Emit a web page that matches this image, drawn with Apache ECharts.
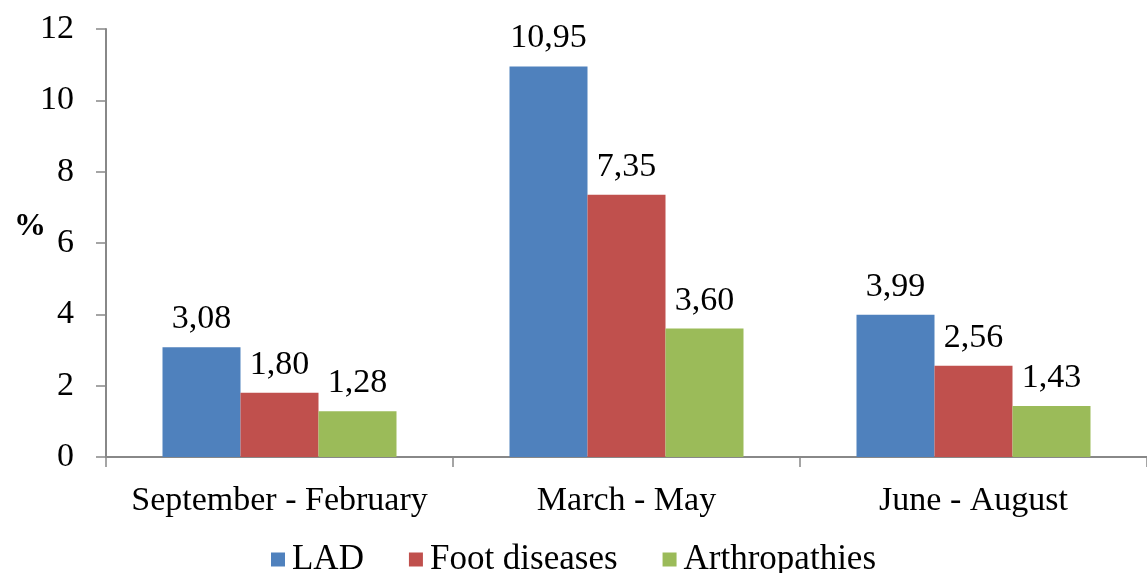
<!DOCTYPE html>
<html><head><meta charset="utf-8">
<script src="https://cdn.jsdelivr.net/npm/echarts@6/dist/echarts.min.js"></script>
<style>html,body{margin:0;padding:0;background:#fff}#c{width:1147px;height:573px}</style>
</head><body><div id="c"></div>
<script>
const categories = ['September - February', 'March - May', 'June - August'];
const seriesNames = ['LAD', 'Foot diseases', 'Arthropathies'];
const ladValues = [3.08, 10.95, 3.99];
const footValues = [1.80, 7.35, 2.56];
const arthroValues = [1.28, 3.60, 1.43];
const yTicks = [0, 2, 4, 6, 8, 10, 12];
const colors = ['#4F81BD', '#C0504D', '#9BBB59'];
const FONT = '"Liberation Serif", "DejaVu Serif", serif';

const chart = echarts.init(document.getElementById('c'));
const label = {
  show: true, position: 'top', distance: 11,
  fontFamily: FONT, fontSize: 34, color: '#000',
  formatter: p => p.value.toFixed(2).replace('.', ',')
};
const mk = (name, data, i) => ({
  name, type: 'bar', data, barWidth: 78, barGap: '0%',
  itemStyle: { color: colors[i] }, label
});
chart.setOption({
  animation: false,
  textStyle: { fontFamily: FONT },
  grid: { left: 106, width: 1052, top: 29, bottom: 116, containLabel: false },
  legend: {
    top: 537, left: 'center', itemWidth: 14, itemHeight: 14, itemGap: 45,
    icon: 'rect',
    textStyle: { fontFamily: FONT, fontSize: 35, color: '#000', padding: [0, 0, 0, 2] },
    data: seriesNames
  },
  xAxis: {
    type: 'category', data: categories,
    axisLine: { lineStyle: { color: '#888', width: 2 } },
    axisTick: { show: true, interval: 0, length: 10, lineStyle: { color: '#888', width: 1.5 } },
    axisLabel: { interval: 0, fontFamily: FONT, fontSize: 34, color: '#000', margin: 27 }
  },
  yAxis: {
    type: 'value', min: 0, max: 12, interval: 2,
    name: '%', nameLocation: 'middle', nameRotate: 0, nameGap: 60, nameMoveOverlap: false,
    nameTextStyle: { fontFamily: FONT, fontSize: 32, fontWeight: 'bold', color: '#000', verticalAlign: 'bottom' },
    axisLine: { show: true, lineStyle: { color: '#888', width: 2 } },
    axisTick: { show: true, length: 10, lineStyle: { color: '#888', width: 1.5 } },
    splitLine: { show: false },
    axisLabel: { fontFamily: FONT, fontSize: 34, color: '#000', margin: 32,
      formatter: v => yTicks.includes(v) ? String(v) : '' }
  },
  series: [mk(seriesNames[0], ladValues, 0), mk(seriesNames[1], footValues, 1), mk(seriesNames[2], arthroValues, 2)]
});
</script></body></html>
